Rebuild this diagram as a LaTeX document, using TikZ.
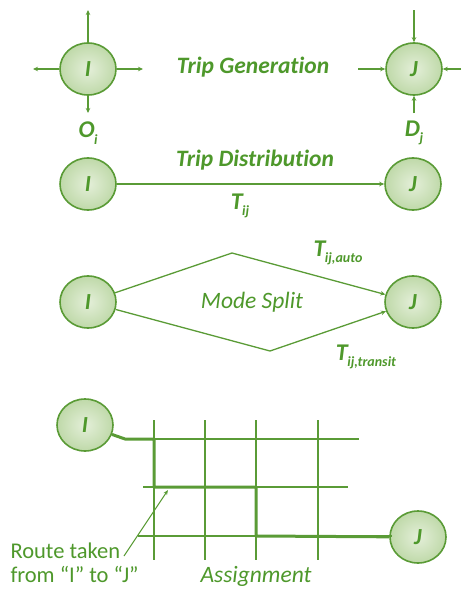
\documentclass[tikz,border=0pt]{standalone}
\usepackage{fontspec}
\setmainfont{Carlito}[Ligatures=NoCommon]
\usetikzlibrary{shapes.geometric,arrows.meta}
\definecolor{leaf}{HTML}{5A9B36}
\definecolor{leaftext}{HTML}{4E982B}
\definecolor{paleleaf}{HTML}{E4EFD9}
\definecolor{midleaf}{HTML}{BFD9A9}
\newcommand{\lowidx}[1]{\kern-0.5pt\raisebox{-0.28em}{\fontsize{14}{14}\selectfont #1}}
\tikzset{
  zone/.style={ellipse, draw=leaf, line width=1.6pt, inner color=paleleaf, outer color=midleaf,
    minimum width=56pt, minimum height=52pt, inner sep=0pt, text=leaftext,
    font=\fontsize{23}{23}\selectfont\bfseries\itshape},
  flow/.style={draw=leaf, line width=1.3pt, -{Stealth[length=5pt,width=4.5pt]}},
  gridline/.style={draw=leaf, line width=1.2pt},
  route/.style={draw=leaf, line width=3pt},
  title/.style={text=leaftext, font=\fontsize{23.5}{23.5}\selectfont\bfseries\itshape},
  plain/.style={text=leaftext, font=\fontsize{23.5}{23.5}\selectfont\itshape},
  qty/.style={text=leaftext, font=\fontsize{24}{24}\selectfont\bfseries\itshape},
  note/.style={text=leaftext, font=\fontsize{22.5}{24}\selectfont, align=left, anchor=west}
}
\begin{document}
\begin{tikzpicture}[x=1pt,y=-1pt]
\useasboundingbox (0,0) rectangle (461,589);

% --- trip generation: productions leave I, attractions enter J
\node[zone] (I1) at (88,69) {I};
\node[zone] (J1) at (414,69) {J};
\coordinate (Iup) at (88,10);
\coordinate (Idn) at (88,113);
\coordinate (Ilf) at (33,69);
\coordinate (Irt) at (143,69);
\draw[flow] (I1) -- (Iup);
\draw[flow] (I1) -- (Idn);
\draw[flow] (I1) -- (Ilf);
\draw[flow] (I1) -- (Irt);
\coordinate (Jup) at (414,10);
\coordinate (Jdn) at (414,113);
\coordinate (Jlf) at (358,69);
\coordinate (Jrt) at (461,69);
\draw[flow] (Jup) -- (J1);
\draw[flow] (Jdn) -- (J1);
\draw[flow] (Jlf) -- (J1);
\draw[flow] (Jrt) -- (J1);
\node[title] (gen) at (253,67) {Trip Generation};
\node[qty] (Oi) at (88,133) {O\lowidx{i}};
\node[qty] (Dj) at (414,133) {D\lowidx{j}};

% --- trip distribution
\node[zone] (I2) at (88,184) {I};
\node[zone] (J2) at (413,184) {J};
\draw[flow] (I2) -- (J2);
\node[title] (dist) at (255,160) {Trip Distribution};
\node[qty] (Tij) at (240,206) {T\lowidx{ij}};

% --- mode split
\node[zone] (I3) at (88,302) {I};
\node[zone] (J3) at (413,302) {J};
\coordinate (autoBend) at (232,253);
\coordinate (transitBend) at (270,351);
\draw[flow] (I3) -- (autoBend) -- (J3);
\draw[flow] (I3) -- (transitBend) -- (J3);
\node[plain] (split) at (252,302) {Mode Split};
\node[qty] (Tauto) at (338,253) {T\lowidx{ij,auto}};
\node[qty] (Ttransit) at (366,357) {T\lowidx{ij,transit}};

% --- assignment on a street grid
\node[zone] (I4) at (85,425) {I};
\node[zone] (J4) at (418,537) {J};
\foreach \gx in {154,205,256,318}
  \draw[gridline] (\gx,420) -- (\gx,560);
\draw[gridline] (154,439) -- (359,439);
\draw[gridline] (143,487) -- (348,487);
\draw[gridline] (138,536) -- (392,536);
\coordinate (r1) at (125,439);
\coordinate (r2) at (154,439);
\coordinate (r3) at (154,487);
\coordinate (r4) at (256,487);
\coordinate (r5) at (256,536);
\draw[route, line join=round] (I4) -- (r1) -- (r2) -- (r3) -- (r4) -- (r5) -- (J4);
\node[note] (taken) at (7,563) {Route taken\\from “I” to “J”};
\node[plain] (assign) at (256,576) {Assignment};
\coordinate (ptrTail) at (124,556);
\coordinate (ptrHead) at (168,490);
\draw[draw=leaf, line width=1pt, -{Stealth[length=5pt,width=4pt]}] (ptrTail) -- (ptrHead);
\end{tikzpicture}
\end{document}
